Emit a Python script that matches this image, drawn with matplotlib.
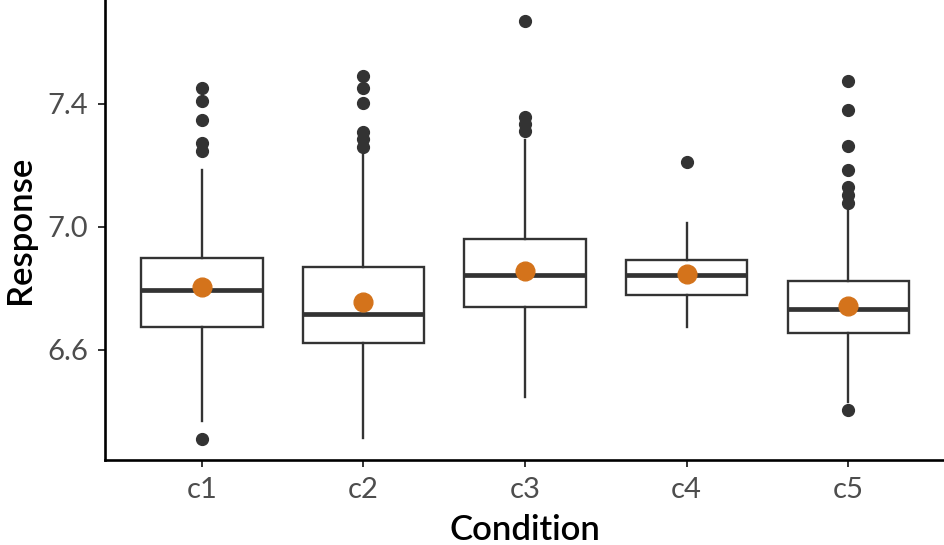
import matplotlib
matplotlib.use("Agg")
import matplotlib.pyplot as plt
import numpy as np

categories = ["c1", "c2", "c3", "c4", "c5"]
q1 = [6.673, 6.622, 6.739, 6.780, 6.655]
median = [6.796, 6.718, 6.844, 6.843, 6.733]
q3 = [6.900, 6.871, 6.960, 6.892, 6.825]
whisker_low = [6.369, 6.315, 6.446, 6.676, 6.432]
whisker_high = [7.185, 7.236, 7.283, 7.014, 7.061]
means = [6.805, 6.755, 6.858, 6.847, 6.744]
outliers = [
    [7.453, 7.411, 7.347, 7.272, 7.246, 6.310],
    [7.492, 7.451, 7.402, 7.310, 7.285, 7.259],
    [7.670, 7.359, 7.335, 7.313],
    [7.210],
    [7.473, 7.380, 7.263, 7.186, 7.129, 7.104, 7.079, 6.403],
]
yticks = [6.6, 7.0, 7.4]

plt.rcParams['font.family'] = ['Lato', 'DejaVu Sans']

fig = plt.figure(figsize=(9.45, 5.45), dpi=100)
ax = fig.add_axes([105/945, 85/545, 840/945, 460/545])

stats = []
for i, c in enumerate(categories):
    stats.append(dict(label=c, q1=q1[i], med=median[i], q3=q3[i],
                      whislo=whisker_low[i], whishi=whisker_high[i],
                      fliers=outliers[i]))
pos = np.arange(1, len(categories) + 1)
ax.bxp(stats, positions=pos, widths=0.75, showcaps=False, patch_artist=True,
       boxprops=dict(facecolor='white', edgecolor='#333333', linewidth=1.7),
       medianprops=dict(color='#333333', linewidth=3.4, solid_capstyle='butt'),
       whiskerprops=dict(color='#333333', linewidth=1.7),
       flierprops=dict(marker='o', markerfacecolor='#333333', markeredgecolor='#333333',
                       markersize=8.5, linestyle='none'),
       zorder=2)
ax.plot(pos, means, 'o', color='#D4731B', markersize=13.5, zorder=5)

allv = [v for o in outliers for v in o] + whisker_low + whisker_high
lo, hi = min(allv), max(allv)
r = hi - lo
ax.set_ylim(lo - 0.05 * r, hi + 0.05 * r)
ax.set_xlim(0.4, len(categories) + 0.6)
ax.set_xticks(pos)
ax.set_xticklabels(categories)
ax.set_yticks(yticks)
ax.set_yticklabels([f"{t:.1f}" for t in yticks])

for s in ['top', 'right']:
    ax.spines[s].set_visible(False)
for s in ['left', 'bottom']:
    ax.spines[s].set_linewidth(1.9)
    ax.spines[s].set_color('black')
ax.tick_params(axis='both', length=5, width=1.4, color='#333333',
               labelsize=21, labelcolor='#4D4D4D', pad=7)
ax.set_xlabel("Condition", fontsize=25, color='black', labelpad=8, fontweight='semibold')
ax.set_ylabel("Response", fontsize=25, color='black', labelpad=8, fontweight='semibold')

fig.savefig("out.png", dpi=100)
